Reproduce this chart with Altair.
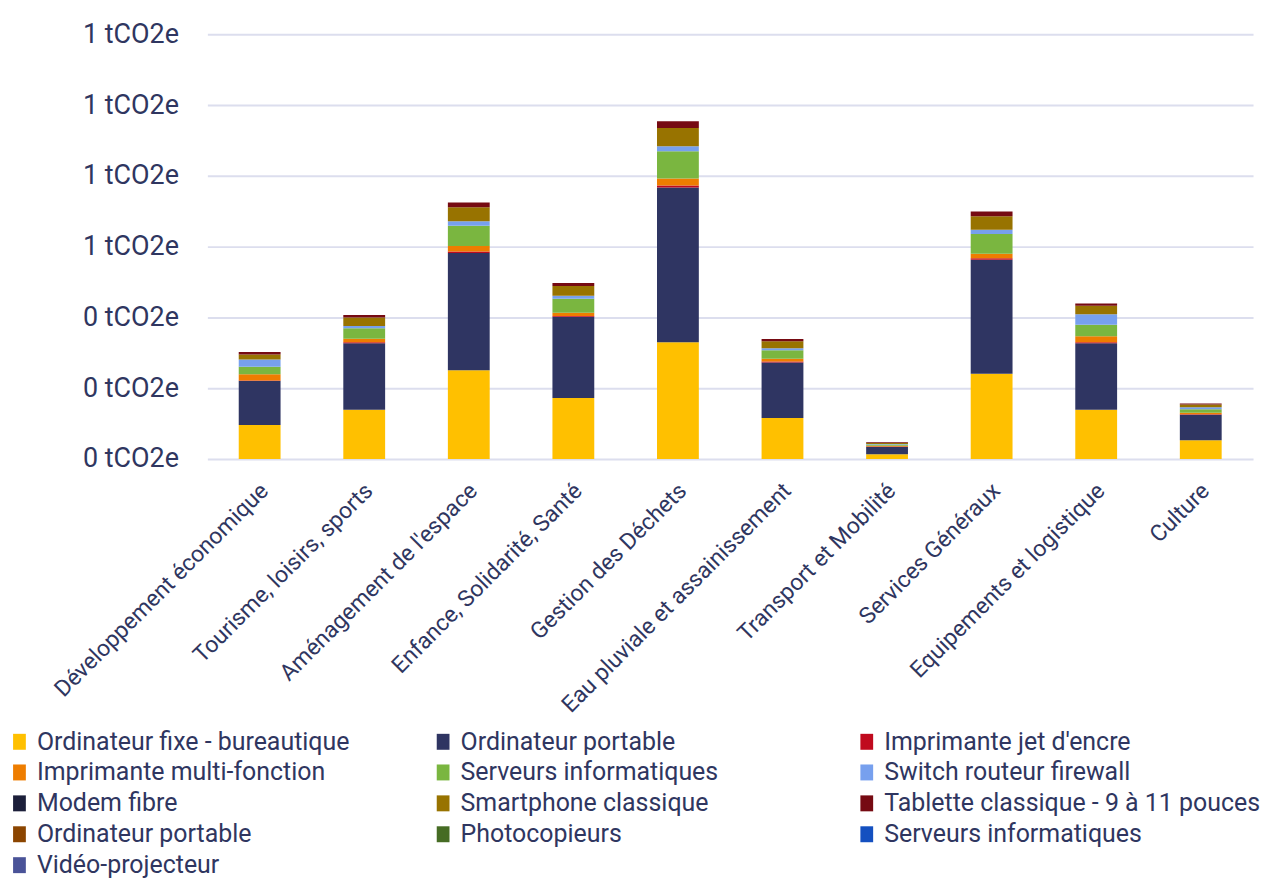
import altair as alt
import pandas as pd

categories = [
    "Développement économique", "Tourisme, loisirs, sports", "Aménagement de l'espace",
    "Enfance, Solidarité, Santé", "Gestion des Déchets", "Eau pluviale et assainissement",
    "Transport et Mobilité", "Services Généraux", "Equipements et logistique", "Culture",
]

series_names = [
    "Ordinateur fixe - bureautique", "Ordinateur portable", "Imprimante jet d'encre",
    "Imprimante multi-fonction", "Serveurs informatiques", "Switch routeur firewall",
    "Modem fibre", "Smartphone classique", "Tablette classique - 9 à 11 pouces",
    "Ordinateur portable", "Photocopieurs", "Serveurs informatiques", "Vidéo-projecteur",
]

series_colors = [
    "#FFC000", "#2F3562", "#C00A1E", "#EE7D00", "#7AB640", "#77A0EE",
    "#1C1F3A", "#987300", "#760A12", "#8B4500", "#466C24", "#1450C0", "#4A5398",
]

ordinateur_fixe = [0.096, 0.139, 0.251, 0.172, 0.330, 0.1155, 0.013, 0.241, 0.139, 0.0526]
ordinateur_portable = [0.124, 0.188, 0.331, 0.230, 0.437, 0.157, 0.021, 0.322, 0.188, 0.072]
imprimante_jet = [0.002, 0.003, 0.004, 0.002, 0.0056, 0.003, 0.001, 0.004, 0.003, 0.002]
imprimante_multi = [0.017, 0.0094, 0.016, 0.0094, 0.0197, 0.0075, 0.002, 0.013, 0.017, 0.004]
serveurs = [0.0216, 0.030, 0.057, 0.039, 0.077, 0.024, 0.004, 0.056, 0.032, 0.010]
switch = [0.0207, 0.0066, 0.013, 0.0085, 0.014, 0.0056, 0.001, 0.012, 0.030, 0.0056]
modem = [0, 0, 0, 0, 0, 0, 0, 0, 0, 0]
smartphone = [0.014, 0.0235, 0.039, 0.028, 0.052, 0.0197, 0.003, 0.0376, 0.024, 0.0075]
tablette = [0.0066, 0.0075, 0.014, 0.0085, 0.019, 0.0066, 0.002, 0.014, 0.0066, 0.003]
ordinateur_portable_2 = [0, 0, 0, 0, 0, 0, 0, 0, 0, 0]
photocopieurs = [0, 0, 0, 0, 0, 0, 0, 0, 0, 0]
serveurs_2 = [0, 0, 0, 0, 0, 0, 0, 0, 0, 0]
video_projecteur = [0, 0, 0, 0, 0, 0, 0, 0, 0, 0]

y_ticks = [0, 0.2, 0.4, 0.6, 0.8, 1.0, 1.2]

all_series = [
    ordinateur_fixe, ordinateur_portable, imprimante_jet, imprimante_multi, serveurs,
    switch, modem, smartphone, tablette, ordinateur_portable_2, photocopieurs,
    serveurs_2, video_projecteur,
]

keys = [f"{i + 1:02d}|{name}" for i, name in enumerate(series_names)]
rows = []
for i, (key, vals) in enumerate(zip(keys, all_series)):
    for cat, v in zip(categories, vals):
        rows.append({"cat": cat, "serie": key, "k": i, "value": v})
df = pd.DataFrame(rows)

TEXT = "#2F3660"
FONT = "Roboto"

chart = alt.Chart(df).mark_bar().encode(
    x=alt.X(
        "cat:N", sort=categories, title=None,
        scale=alt.Scale(paddingInner=0.6, paddingOuter=0.3),
        axis=alt.Axis(
            labelAngle=-45, labelAlign="right", labelBaseline="middle",
            labelPadding=28, labelOffset=5, labelFontSize=23, labelFont=FONT,
            labelColor=TEXT, domain=False, ticks=False, labelLimit=400,
        ),
    ),
    y=alt.Y(
        "value:Q", stack="zero", title=None,
        scale=alt.Scale(domain=[0, 1.2], nice=False),
        axis=alt.Axis(
            values=y_ticks, labelExpr="round(datum.value) + ' tCO2e'",
            labelFontSize=27, labelFont=FONT, labelColor=TEXT, labelPadding=29,
            domain=False, ticks=False, gridColor="#DCDEEE", gridWidth=2,
        ),
    ),
    color=alt.Color(
        "serie:N", title=None,
        scale=alt.Scale(domain=keys, range=series_colors),
        legend=alt.Legend(
            orient="none", legendX=-201, legendY=697, columns=3, direction="horizontal",
            gridAlign="all", columnPadding=17, rowPadding=5, padding=0,
            labelExpr="split(datum.label, '|')[1]", labelFontSize=25, labelFont=FONT,
            labelColor=TEXT, labelLimit=600, labelOffset=5,
            symbolType="M-0.8,-1H0.8V1H-0.8Z", symbolSize=256, symbolStrokeWidth=0,
            symbolOpacity=1,
        ),
    ),
    order=alt.Order("k:Q", sort="ascending"),
).properties(
    width=1049, height=426,
    autosize=alt.AutoSizeParams(type="none"),
    padding={"left": 200, "top": 25, "right": 13, "bottom": 420},
)

chart = chart.configure_view(stroke=None)

chart.save("out.html", embed_options={"renderer": "svg", "actions": False})
